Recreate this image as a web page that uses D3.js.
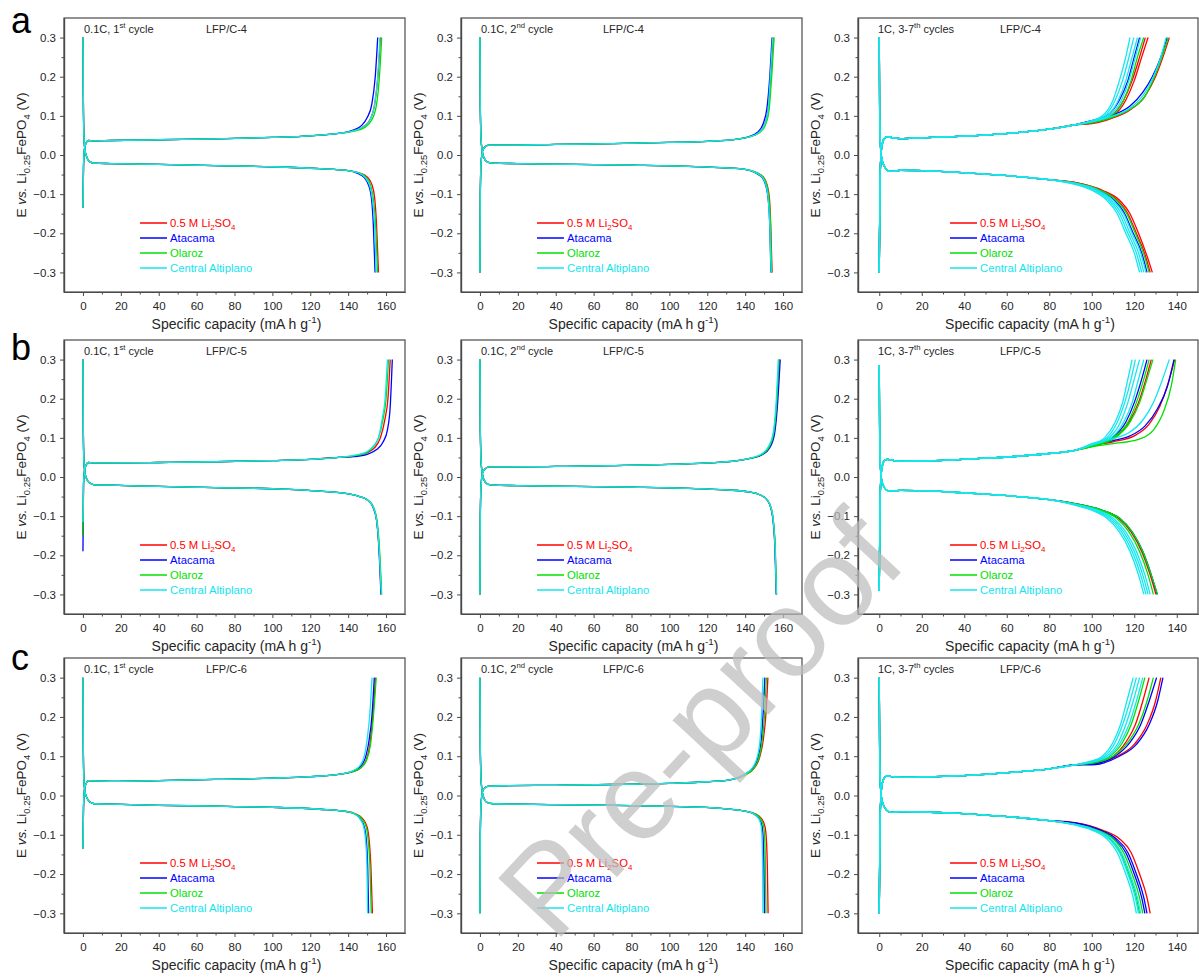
<!DOCTYPE html>
<html><head><meta charset="utf-8">
<script src="https://cdn.jsdelivr.net/npm/d3@7"></script>
<style>
body{margin:0;background:#fff;}
svg{display:block;font-family:"Liberation Sans",Arial,sans-serif;}
</style>
</head><body>
<svg id="chart" width="1199" height="979"></svg>
<script>
// ---------------- DATA ----------------
const seriesNames = ["0.5 M Li_{2}SO_{4}", "Atacama", "Olaroz", "Central Altiplano"];
const rowLetters = ["a", "b", "c"];
const sampleNames = ["LFP/C-4", "LFP/C-5", "LFP/C-6"];
const cycleLabels = ["0.1C, 1^{st} cycle", "0.1C, 2^{nd} cycle", "1C, 3-7^{th} cycles"];
const xTicksSlow = [0, 20, 40, 60, 80, 100, 120, 140, 160];
const xMinorSlow = [10, 30, 50, 70, 90, 110, 130, 150];
const xTicksFast = [0, 20, 40, 60, 80, 100, 120, 140];
const xMinorFast = [10, 30, 50, 70, 90, 110, 130];
const yTicks = [-0.3, -0.2, -0.1, 0.0, 0.1, 0.2, 0.3];
const yMinor = [-0.25, -0.15, -0.05, 0.05, 0.15, 0.25];
const xDomainSlow = [-10, 170];
const xDomainFast = [-10, 150];
const yDomain = [-0.35, 0.35];
const xLabel = "Specific capacity (mA h g^{-1})";
const yLabel = "E *vs.* Li_{0.25}FePO_{4} (V)";
const watermarkText = "Pre-proof";

// Panel a1: LFP/C-4, 0.1C 1st cycle
const a1ChargeStart = [-0.135, -0.135, -0.135, -0.135];
const a1ChargeHead = [[0.3,-0.03],[0.8,0.015],[1.6,0.03],[3,0.037],[5,0.036],[15,0.037],[40,0.039],[70,0.041],[100,0.045],[120,0.049],[135,0.055]];
const a1ChargeTails = [
  [0, [[143,0.062],[148,0.072],[151.5,0.09],[154,0.13],[155.7,0.2],[157,0.3]]],
  [1, [[143,0.064],[147,0.075],[150,0.095],[152.5,0.13],[154.3,0.2],[155.6,0.3]]],
  [2, [[143,0.061],[148.5,0.07],[152.5,0.09],[155,0.13],[156.5,0.2],[157.7,0.3]]],
  [3, [[143,0.062],[148,0.072],[151.5,0.09],[154,0.13],[155.6,0.2],[156.8,0.3]]]
];
const a1DischargeStart = [0.3, 0.3, 0.3, 0.3];
const a1DischargeHead = [[0.2,0.15],[0.5,0.05],[1,0.015],[2,-0.005],[3.5,-0.017],[6,-0.021],[15,-0.022],[40,-0.024],[70,-0.027],[100,-0.030],[125,-0.035],[140,-0.04]];
const a1DischargeTails = [
  [0, [[146,-0.046],[150,-0.056],[152.5,-0.075],[154,-0.11],[155,-0.18],[156,-0.3]]],
  [1, [[145,-0.047],[148.5,-0.058],[151,-0.08],[152.5,-0.12],[153.3,-0.18],[154.2,-0.3]]],
  [2, [[146,-0.046],[149.5,-0.057],[152,-0.08],[153.5,-0.12],[154.5,-0.18],[155.5,-0.3]]],
  [3, [[145.5,-0.046],[149,-0.058],[151.5,-0.08],[153,-0.12],[154,-0.18],[154.8,-0.3]]]
];

// Panel a2: LFP/C-4, 0.1C 2nd cycle
const a2ChargeStart = [-0.3, -0.3, -0.3, -0.3];
const a2ChargeHead = [[0.2,-0.1],[0.6,-0.02],[1.5,0.012],[3,0.022],[5,0.025],[15,0.025],[40,0.027],[70,0.029],[100,0.032],[120,0.035],[135,0.04]];
const a2ChargeTails = [
  [0, [[142,0.046],[147,0.057],[150,0.075],[152,0.11],[153.5,0.2],[154.8,0.3]]],
  [1, [[142,0.047],[146.5,0.058],[149.5,0.08],[151.5,0.12],[153,0.2],[154.2,0.3]]],
  [2, [[142,0.046],[147.5,0.057],[150.5,0.075],[152.5,0.11],[154,0.2],[155.3,0.3]]],
  [3, [[142,0.046],[147,0.057],[150,0.075],[152,0.11],[153.3,0.2],[154.5,0.3]]]
];
const a2DischargeStart = [0.3, 0.3, 0.3, 0.3];
const a2DischargeHead = [[0.2,0.12],[0.6,0.04],[1.2,0.01],[2.2,-0.008],[4,-0.018],[7,-0.021],[20,-0.022],[50,-0.024],[80,-0.026],[110,-0.029],[130,-0.033],[140,-0.037]];
const a2DischargeTails = [
  [0, [[146,-0.045],[149.5,-0.056],[151.5,-0.075],[152.8,-0.11],[153.5,-0.18],[154.2,-0.3]]],
  [1, [[145.5,-0.046],[149,-0.058],[151,-0.08],[152.3,-0.12],[153,-0.18],[153.6,-0.3]]],
  [2, [[146,-0.045],[149.5,-0.057],[151.5,-0.078],[152.7,-0.12],[153.4,-0.18],[154,-0.3]]],
  [3, [[145.5,-0.045],[149,-0.057],[151,-0.078],[152.3,-0.12],[153,-0.18],[153.7,-0.3]]]
];

// Panel a3: LFP/C-4, 1C cycles 3-7
const a3ChargeStart = [-0.3, -0.3, -0.3, -0.3];
const a3ChargeHead = [[0.3,-0.1],[0.8,0.0],[1.5,0.03],[2.5,0.043],[4,0.047],[6,0.044],[10,0.042],[20,0.044],[35,0.047],[50,0.051],[65,0.057],[80,0.066],[92,0.077]];
const a3ChargeTails = [
  [0, [[100,0.08],[110,0.095],[118,0.115],[125,0.15],[130,0.2],[133.5,0.25],[136.5,0.3]]],
  [0, [[100,0.082],[110,0.1],[116,0.14],[120,0.19],[123.5,0.25],[126.5,0.3]]],
  [0, [[100,0.083],[109,0.1],[115,0.14],[119,0.19],[122.5,0.25],[125.2,0.3]]],
  [1, [[100,0.088],[110,0.102],[118,0.125],[124,0.16],[128.5,0.2],[132.5,0.25],[135.5,0.3]]],
  [1, [[100,0.087],[107,0.1],[113,0.14],[117,0.19],[120,0.25],[122.5,0.3]]],
  [2, [[100,0.082],[110,0.097],[118,0.117],[125,0.15],[129.5,0.2],[133,0.25],[136,0.3]]],
  [2, [[100,0.084],[109,0.1],[115,0.14],[118.5,0.19],[121.5,0.25],[124.5,0.3]]],
  [3, [[100,0.085],[110,0.1],[118,0.12],[124.5,0.155],[129,0.2],[132.5,0.25],[135,0.3]]],
  [3, [[100,0.088],[105,0.1],[110,0.14],[113,0.19],[116,0.25],[118,0.3]]],
  [3, [[100,0.087],[106,0.1],[111,0.14],[114.5,0.19],[117.5,0.25],[119.8,0.3]]],
  [3, [[100,0.086],[107,0.1],[112.5,0.14],[116,0.19],[119,0.25],[121.5,0.3]]],
  [3, [[100,0.085],[108,0.1],[114,0.14],[117.5,0.19],[120.5,0.25],[123,0.3]]]
];
const a3DischargeStart = [0.3, 0.3, 0.3, 0.3];
const a3DischargeHead = [[0.2,0.1],[0.6,0.02],[1.2,-0.01],[2.5,-0.03],[4,-0.04],[6,-0.042],[10,-0.039],[20,-0.04],[35,-0.044],[50,-0.049],[65,-0.055],[80,-0.063]];
const a3DischargeTails = [
  [0, [[92,-0.07],[105,-0.09],[113,-0.115],[118,-0.15],[122,-0.2],[125.5,-0.25],[128.5,-0.3]]],
  [0, [[92,-0.07],[104,-0.09],[112,-0.115],[117,-0.15],[121,-0.2],[124.8,-0.25],[127.5,-0.3]]],
  [1, [[92,-0.072],[103,-0.09],[110.5,-0.115],[115.5,-0.15],[119.5,-0.2],[123.5,-0.25],[126,-0.3]]],
  [2, [[92,-0.071],[104,-0.09],[111.5,-0.115],[116.5,-0.15],[120.5,-0.2],[124.3,-0.25],[127,-0.3]]],
  [3, [[92,-0.075],[100,-0.09],[107,-0.115],[112,-0.15],[116,-0.2],[120,-0.25],[122.5,-0.3]]],
  [3, [[92,-0.074],[101,-0.09],[108,-0.115],[113,-0.15],[117,-0.2],[121,-0.25],[123.5,-0.3]]],
  [3, [[92,-0.073],[102,-0.09],[109,-0.115],[114,-0.15],[118,-0.2],[122,-0.25],[124.5,-0.3]]],
  [3, [[92,-0.072],[103,-0.09],[110,-0.115],[115,-0.15],[119,-0.2],[123,-0.25],[125.5,-0.3]]]
];

// Panel b1: LFP/C-5, 0.1C 1st cycle
const b1ChargeStart = [-0.15, -0.19, -0.15, -0.115];
const b1ChargeHead = [[0.3,-0.02],[0.8,0.015],[1.6,0.03],[3,0.037],[5,0.036],[15,0.036],[40,0.037],[70,0.039],[100,0.042],[120,0.045],[135,0.05]];
const b1ChargeTails = [
  [0, [[143,0.053],[150,0.062],[154,0.075],[157,0.1],[159.5,0.15],[161,0.2],[162.2,0.3]]],
  [1, [[143,0.052],[150,0.058],[155,0.07],[158.5,0.09],[160.7,0.12],[162.2,0.18],[163.3,0.3]]],
  [2, [[143,0.054],[150,0.063],[153.5,0.078],[156,0.1],[158.5,0.15],[160,0.2],[161.3,0.3]]],
  [3, [[143,0.055],[150,0.065],[153.5,0.08],[156,0.1],[158,0.15],[159.5,0.2],[160.7,0.3]]]
];
const b1DischargeStart = [0.3, 0.3, 0.3, 0.3];
const b1DischargeHead = [[0.2,0.12],[0.5,0.04],[1,0.012],[2,-0.005],[3.5,-0.015],[6,-0.02],[15,-0.021],[40,-0.024],[70,-0.027],[100,-0.03],[125,-0.036],[140,-0.043]];
const b1DischargeTails = [
  [0, [[146,-0.05],[150,-0.058],[153,-0.075],[155,-0.11],[156.3,-0.18],[157.5,-0.3]]],
  [1, [[146,-0.05],[150,-0.058],[153,-0.076],[155,-0.11],[156.2,-0.18],[157.3,-0.3]]],
  [2, [[146,-0.05],[150,-0.058],[153.2,-0.075],[155.2,-0.11],[156.5,-0.18],[157.7,-0.3]]],
  [3, [[146,-0.05],[150,-0.058],[153,-0.075],[155,-0.11],[156.3,-0.18],[157.5,-0.3]]]
];

// Panel b2: LFP/C-5, 0.1C 2nd cycle
const b2ChargeStart = [-0.3, -0.3, -0.3, -0.3];
const b2ChargeHead = [[0.2,-0.1],[0.6,-0.02],[1.5,0.012],[3,0.022],[5,0.026],[15,0.026],[40,0.027],[70,0.029],[100,0.032],[120,0.036],[135,0.041]];
const b2ChargeTails = [
  [0, [[143,0.048],[149,0.058],[152.5,0.075],[155,0.11],[156.5,0.18],[158,0.3]]],
  [1, [[143,0.048],[149,0.057],[153,0.075],[155.5,0.11],[157,0.18],[158.5,0.3]]],
  [2, [[143,0.048],[149,0.058],[152.5,0.075],[155,0.11],[156.5,0.18],[157.8,0.3]]],
  [3, [[143,0.049],[149,0.06],[152.3,0.078],[154.7,0.11],[156.2,0.18],[157.5,0.3]]]
];
const b2DischargeStart = [0.3, 0.3, 0.3, 0.3];
const b2DischargeHead = [[0.2,0.12],[0.6,0.04],[1.2,0.01],[2.2,-0.008],[4,-0.018],[7,-0.021],[20,-0.022],[50,-0.024],[80,-0.026],[110,-0.029],[130,-0.033],[142,-0.038]];
const b2DischargeTails = [
  [0, [[148,-0.046],[151.5,-0.058],[153.7,-0.08],[155,-0.12],[155.8,-0.18],[156.5,-0.3]]],
  [1, [[148,-0.046],[151.5,-0.058],[153.6,-0.08],[154.9,-0.12],[155.7,-0.18],[156.4,-0.3]]],
  [2, [[148,-0.046],[151.5,-0.058],[153.8,-0.08],[155.1,-0.12],[155.9,-0.18],[156.6,-0.3]]],
  [3, [[148,-0.046],[151.5,-0.058],[153.7,-0.08],[155,-0.12],[155.8,-0.18],[156.5,-0.3]]]
];

// Panel b3: LFP/C-5, 1C cycles 3-7
const b3ChargeStart = [-0.29, -0.29, -0.29, -0.29];
const b3ChargeHead = [[0.3,-0.1],[0.8,0.0],[1.5,0.03],[2.5,0.042],[4,0.045],[6,0.043],[10,0.04],[20,0.041],[35,0.044],[50,0.048],[65,0.053],[80,0.06],[92,0.068]];
const b3ChargeTails = [
  [0, [[100,0.08],[110,0.09],[120,0.105],[127,0.135],[132,0.18],[136,0.24],[139,0.3]]],
  [0, [[100,0.078],[110.5,0.1],[117.5,0.14],[122,0.19],[125.5,0.25],[128,0.3]]],
  [1, [[100,0.082],[110,0.093],[118,0.105],[125,0.13],[131,0.175],[135.5,0.23],[138.7,0.3]]],
  [1, [[100,0.081],[109.5,0.1],[116,0.14],[120,0.19],[123.5,0.25],[126,0.3]]],
  [2, [[100,0.077],[110,0.085],[122,0.096],[129,0.12],[134,0.17],[137.5,0.235],[139.5,0.3]]],
  [2, [[100,0.08],[110,0.1],[117,0.14],[121,0.19],[124.5,0.25],[127,0.3]]],
  [2, [[100,0.079],[111,0.1],[118,0.14],[122.5,0.19],[126,0.25],[128.8,0.3]]],
  [3, [[100,0.085],[110,0.098],[118,0.115],[124,0.145],[129,0.19],[133,0.245],[136.5,0.3]]],
  [3, [[100,0.083],[106,0.1],[111,0.14],[114.5,0.19],[117,0.25],[119,0.3]]],
  [3, [[100,0.083],[107,0.1],[112,0.14],[115.5,0.19],[118.5,0.25],[120.5,0.3]]],
  [3, [[100,0.082],[108,0.1],[113.5,0.14],[117,0.19],[120,0.25],[122.5,0.3]]],
  [3, [[100,0.082],[109,0.1],[115,0.14],[119,0.19],[122,0.25],[124.5,0.3]]]
];
const b3DischargeStart = [0.285, 0.285, 0.285, 0.285];
const b3DischargeHead = [[0.2,0.1],[0.6,0.02],[1.2,-0.01],[2.5,-0.028],[4,-0.035],[6,-0.036],[10,-0.034],[20,-0.035],[35,-0.039],[50,-0.044],[65,-0.05],[80,-0.058]];
const b3DischargeTails = [
  [0, [[92,-0.068],[104.5,-0.085],[112.5,-0.105],[118.5,-0.14],[123.5,-0.19],[127.5,-0.25],[130.2,-0.3]]],
  [1, [[92,-0.068],[105,-0.085],[113,-0.105],[119,-0.14],[124,-0.19],[128,-0.25],[130.8,-0.3]]],
  [2, [[92,-0.069],[104,-0.085],[111.5,-0.105],[117.5,-0.14],[122.5,-0.19],[126.5,-0.25],[129,-0.3]]],
  [2, [[92,-0.068],[105,-0.085],[113,-0.105],[119,-0.14],[124,-0.19],[128,-0.25],[131,-0.3]]],
  [3, [[92,-0.072],[100,-0.085],[107,-0.105],[113,-0.14],[118,-0.19],[122,-0.25],[124.5,-0.3]]],
  [3, [[92,-0.071],[101,-0.085],[108,-0.105],[114,-0.14],[119,-0.19],[123,-0.25],[125.5,-0.3]]],
  [3, [[92,-0.07],[102,-0.085],[109,-0.105],[115,-0.14],[120,-0.19],[124,-0.25],[126.5,-0.3]]],
  [3, [[92,-0.07],[103,-0.085],[110,-0.105],[116,-0.14],[121,-0.19],[125,-0.25],[127.5,-0.3]]]
];

// Panel c1: LFP/C-6, 0.1C 1st cycle
const c1ChargeStart = [-0.135, -0.135, -0.135, -0.135];
const c1ChargeHead = [[0.3,-0.03],[0.8,0.015],[1.6,0.03],[3,0.038],[5,0.037],[15,0.036],[40,0.038],[70,0.041],[100,0.044],[120,0.048],[135,0.054]];
const c1ChargeTails = [
  [0, [[142,0.06],[146.5,0.07],[149.5,0.09],[151.5,0.13],[153,0.2],[154.5,0.3]]],
  [1, [[142,0.061],[146,0.072],[149,0.095],[151,0.14],[152.5,0.2],[153.8,0.3]]],
  [2, [[142,0.06],[146.5,0.07],[149.7,0.09],[151.8,0.13],[153.3,0.2],[154.8,0.3]]],
  [3, [[142,0.062],[146,0.075],[148.5,0.1],[150.2,0.15],[151.3,0.2],[152.6,0.3]]]
];
const c1DischargeStart = [0.3, 0.3, 0.3, 0.3];
const c1DischargeHead = [[0.2,0.12],[0.5,0.04],[1,0.012],[2,-0.005],[3.5,-0.016],[6,-0.021],[15,-0.022],[40,-0.025],[70,-0.027],[100,-0.03],[125,-0.035],[138,-0.04]];
const c1DischargeTails = [
  [0, [[144,-0.047],[147.5,-0.058],[150,-0.08],[151.2,-0.12],[152,-0.18],[152.8,-0.3]]],
  [1, [[143.5,-0.047],[146.5,-0.06],[148.5,-0.08],[149.7,-0.12],[150.3,-0.18],[150.8,-0.3]]],
  [2, [[144,-0.047],[147,-0.058],[149.5,-0.08],[150.7,-0.12],[151.5,-0.18],[152.2,-0.3]]],
  [3, [[143.5,-0.047],[146.3,-0.06],[148.2,-0.08],[149.3,-0.12],[149.9,-0.18],[150.3,-0.3]]]
];

// Panel c2: LFP/C-6, 0.1C 2nd cycle
const c2ChargeStart = [-0.3, -0.3, -0.3, -0.3];
const c2ChargeHead = [[0.2,-0.1],[0.6,-0.02],[1.5,0.012],[3,0.021],[5,0.024],[15,0.025],[40,0.026],[70,0.028],[100,0.031],[120,0.035],[132,0.04]];
const c2ChargeTails = [
  [0, [[140,0.053],[144.5,0.068],[147.5,0.095],[149.5,0.14],[151,0.21],[152,0.3]]],
  [1, [[140,0.054],[144,0.07],[146.8,0.098],[148.5,0.14],[149.5,0.21],[150.4,0.3]]],
  [2, [[140,0.053],[144.3,0.068],[147.2,0.095],[149,0.14],[150.3,0.21],[151.2,0.3]]],
  [3, [[140,0.055],[144,0.072],[146.5,0.1],[148,0.15],[148.8,0.22],[149.4,0.3]]]
];
const c2DischargeStart = [0.3, 0.3, 0.3, 0.3];
const c2DischargeHead = [[0.2,0.12],[0.6,0.04],[1.2,0.01],[2.2,-0.008],[4,-0.018],[7,-0.021],[20,-0.022],[50,-0.024],[80,-0.026],[110,-0.029],[130,-0.034],[140,-0.04]];
const c2DischargeTails = [
  [0, [[145,-0.046],[148.5,-0.058],[150.5,-0.08],[151.3,-0.12],[151.7,-0.18],[152.1,-0.3]]],
  [1, [[144.5,-0.047],[147.5,-0.06],[149,-0.08],[149.6,-0.12],[149.9,-0.18],[150.2,-0.3]]],
  [2, [[145,-0.046],[148,-0.058],[149.8,-0.08],[150.4,-0.12],[150.7,-0.18],[151,-0.3]]],
  [3, [[144.5,-0.047],[147.3,-0.06],[148.5,-0.08],[149,-0.12],[149.2,-0.18],[149.4,-0.3]]]
];

// Panel c3: LFP/C-6, 1C cycles 3-7
const c3ChargeStart = [-0.3, -0.3, -0.3, -0.3];
const c3ChargeHead = [[0.3,-0.1],[0.8,0.0],[1.5,0.032],[2.5,0.046],[4,0.05],[6,0.048],[10,0.046],[20,0.047],[35,0.05],[50,0.054],[65,0.06],[80,0.068],[92,0.078]];
const c3ChargeTails = [
  [0, [[100,0.082],[110,0.1],[116,0.135],[120.5,0.18],[124,0.24],[127,0.3]]],
  [0, [[100,0.08],[112,0.1],[120,0.13],[126,0.18],[130,0.24],[132.5,0.3]]],
  [1, [[100,0.08],[111,0.1],[118,0.135],[123,0.18],[127,0.24],[130.5,0.3]]],
  [1, [[100,0.078],[113,0.1],[121,0.13],[127,0.18],[131,0.24],[133.5,0.3]]],
  [2, [[100,0.084],[108.5,0.1],[114.5,0.135],[118.5,0.18],[122,0.24],[125,0.3]]],
  [2, [[100,0.082],[110,0.1],[117,0.135],[122,0.18],[126,0.24],[129,0.3]]],
  [3, [[100,0.088],[105,0.1],[110,0.135],[113.5,0.18],[116.5,0.24],[119.5,0.3]]],
  [3, [[100,0.087],[106,0.1],[111,0.135],[114.5,0.18],[118,0.24],[121,0.3]]],
  [3, [[100,0.086],[107,0.1],[112.5,0.135],[116,0.18],[119.5,0.24],[122.5,0.3]]],
  [3, [[100,0.085],[108,0.1],[113.5,0.135],[117.5,0.18],[121,0.24],[124,0.3]]]
];
const c3DischargeStart = [0.3, 0.3, 0.3, 0.3];
const c3DischargeHead = [[0.2,0.1],[0.6,0.02],[1.2,-0.01],[2.5,-0.03],[4,-0.04],[6,-0.043],[10,-0.041],[20,-0.042],[35,-0.045],[50,-0.05],[65,-0.056],[80,-0.064]];
const c3DischargeTails = [
  [0, [[92,-0.069],[105,-0.088],[113,-0.11],[118.5,-0.145],[122.5,-0.2],[126,-0.26],[127.5,-0.3]]],
  [1, [[92,-0.07],[104,-0.088],[111.5,-0.11],[117,-0.145],[121,-0.2],[124.5,-0.26],[126,-0.3]]],
  [1, [[92,-0.07],[103,-0.088],[110.5,-0.11],[116,-0.145],[120,-0.2],[123.5,-0.26],[125,-0.3]]],
  [2, [[92,-0.074],[101.5,-0.088],[108.5,-0.11],[113.5,-0.145],[117.5,-0.2],[121,-0.26],[122.5,-0.3]]],
  [2, [[92,-0.073],[102.5,-0.088],[110,-0.11],[115,-0.145],[119,-0.2],[122.5,-0.26],[124,-0.3]]],
  [3, [[92,-0.075],[100,-0.088],[107,-0.11],[112,-0.145],[116,-0.2],[119.5,-0.26],[121,-0.3]]],
  [3, [[92,-0.074],[101,-0.088],[108,-0.11],[113,-0.145],[117,-0.2],[120.5,-0.26],[122,-0.3]]],
  [3, [[92,-0.073],[102,-0.088],[109,-0.11],[114,-0.145],[118,-0.2],[121.5,-0.26],[123,-0.3]]]
];

// ---------------- STYLE / LAYOUT ----------------
const seriesColors = ["#ff0000", "#0000ff", "#00e000", "#14e6f0"];
const colLeft = [64, 461, 858], colWidth = [341, 341, 340];
const rowTop = [18, 340, 658], rowHeight = [274, 274, 275];
const letterBaseline = [33, 360, 670];
const legendOffsetX = [76, 76, 92];
const axisColor = "#4a4a4a", textColor = "#262626";

const panelTable = [
  [a1ChargeStart, a1ChargeHead, a1ChargeTails, a1DischargeStart, a1DischargeHead, a1DischargeTails],
  [a2ChargeStart, a2ChargeHead, a2ChargeTails, a2DischargeStart, a2DischargeHead, a2DischargeTails],
  [a3ChargeStart, a3ChargeHead, a3ChargeTails, a3DischargeStart, a3DischargeHead, a3DischargeTails],
  [b1ChargeStart, b1ChargeHead, b1ChargeTails, b1DischargeStart, b1DischargeHead, b1DischargeTails],
  [b2ChargeStart, b2ChargeHead, b2ChargeTails, b2DischargeStart, b2DischargeHead, b2DischargeTails],
  [b3ChargeStart, b3ChargeHead, b3ChargeTails, b3DischargeStart, b3DischargeHead, b3DischargeTails],
  [c1ChargeStart, c1ChargeHead, c1ChargeTails, c1DischargeStart, c1DischargeHead, c1DischargeTails],
  [c2ChargeStart, c2ChargeHead, c2ChargeTails, c2DischargeStart, c2DischargeHead, c2DischargeTails],
  [c3ChargeStart, c3ChargeHead, c3ChargeTails, c3DischargeStart, c3DischargeHead, c3DischargeTails]
];

// ---------------- RENDER ----------------
const svg = d3.select("#chart");
svg.append("rect").attr("width", 1199).attr("height", 979).attr("fill", "#fff");

function rich(sel, str, size) {
  const parts = str.split(/(_\{[^}]*\}|\^\{[^}]*\}|\*[^*]*\*)/).filter(s => s.length);
  let cur = 0;
  parts.forEach(p => {
    let t = p, off = 0, fs = size, italic = false;
    if (p.startsWith("_{")) { t = p.slice(2, -1); fs = size * 0.7; off = size * 0.3; }
    else if (p.startsWith("^{")) { t = p.slice(2, -1); fs = size * 0.7; off = -size * 0.42; }
    else if (p.startsWith("*")) { t = p.slice(1, -1); italic = true; }
    const ts = sel.append("tspan").text(t).attr("font-size", fs).attr("dy", off - cur);
    if (italic) ts.attr("font-style", "italic");
    cur = off;
  });
}

for (let r = 0; r < 3; r++) {
  svg.append("text").attr("x", 11).attr("y", letterBaseline[r])
    .attr("font-size", 36).attr("fill", "#000").text(rowLetters[r]);
  for (let c = 0; c < 3; c++) {
    const L = colLeft[c], T = rowTop[r], W = colWidth[c], H = rowHeight[r];
    const fast = c === 2;
    const x = d3.scaleLinear().domain(fast ? xDomainFast : xDomainSlow).range([L, L + W]);
    const y = d3.scaleLinear().domain(yDomain).range([T + H, T]);
    const g = svg.append("g");
    const [cs, ch, ct, ds, dh, dt] = panelTable[r * 3 + c];
    const curves = [];
    ct.forEach(([s, pts]) => curves.push({ s, pts: [[0, cs[s]]].concat(ch, pts) }));
    dt.forEach(([s, pts]) => curves.push({ s, pts: [[0, ds[s]]].concat(dh, pts) }));
    curves.sort((a, b) => a.s - b.s);
    const line = d3.line().x(d => x(d[0])).y(d => y(d[1])).curve(d3.curveMonotoneX);
    g.append("g").selectAll("path").data(curves).join("path")
      .attr("d", d => line(d.pts)).attr("fill", "none")
      .attr("stroke", d => seriesColors[d.s]).attr("stroke-width", 1.3)
      .attr("stroke-linejoin", "round");

    // frame
    g.append("rect").attr("x", L).attr("y", T).attr("width", W).attr("height", H)
      .attr("fill", "none").attr("stroke", axisColor).attr("stroke-width", 1.2);

    // axes
    const yAx = g.append("g").attr("transform", `translate(${L},0)`)
      .call(d3.axisLeft(y).tickValues(yTicks).tickFormat(d3.format(".1f")).tickSize(4).tickSizeOuter(0).tickPadding(4));
    const yMin = g.append("g").attr("transform", `translate(${L},0)`)
      .call(d3.axisLeft(y).tickValues(yMinor).tickFormat("").tickSize(2.5).tickSizeOuter(0));
    const xAx = g.append("g").attr("transform", `translate(0,${T + H})`)
      .call(d3.axisBottom(x).tickValues(fast ? xTicksFast : xTicksSlow).tickSize(4).tickSizeOuter(0).tickPadding(6));
    const xMin = g.append("g").attr("transform", `translate(0,${T + H})`)
      .call(d3.axisBottom(x).tickValues(fast ? xMinorFast : xMinorSlow).tickFormat("").tickSize(2.5).tickSizeOuter(0));
    [yAx, yMin, xAx, xMin].forEach(a => {
      a.select(".domain").attr("stroke", axisColor).attr("stroke-width", 1.2);
      a.selectAll(".tick line").attr("stroke", axisColor).attr("stroke-width", 1);
      a.selectAll(".tick text").attr("fill", textColor).attr("font-size", 11.5)
        .attr("font-family", "'Liberation Sans', Arial, sans-serif");
    });

    // axis titles
    const xt = g.append("text").attr("x", L + W / 2 + 2).attr("y", T + H + 37)
      .attr("text-anchor", "middle").attr("fill", textColor).attr("font-size", 14);
    rich(xt, xLabel, 14);
    const yt = g.append("text").attr("transform", `translate(${L - 38},${T + H / 2}) rotate(-90)`)
      .attr("text-anchor", "middle").attr("fill", textColor).attr("font-size", 13.5);
    rich(yt, yLabel, 13.5);

    // annotations
    const ct1 = g.append("text").attr("x", L + 20).attr("y", T + 15).attr("fill", textColor).attr("font-size", 11);
    rich(ct1, cycleLabels[c], 11);
    g.append("text").attr("x", L + 142).attr("y", T + 15).attr("fill", textColor)
      .attr("font-size", 11).text(sampleNames[r]);

    // legend
    seriesNames.forEach((name, i) => {
      const ly = T + 205 + i * 15;
      const lx = L + legendOffsetX[c];
      g.append("line").attr("x1", lx).attr("x2", lx + 27).attr("y1", ly).attr("y2", ly)
        .attr("stroke", seriesColors[i]).attr("stroke-width", 1.5);
      const t = g.append("text").attr("x", lx + 30).attr("y", ly + 4)
        .attr("fill", seriesColors[i]).attr("font-size", 11.3);
      rich(t, name, 11.3);
    });
  }
}

// watermark
svg.append("text").attr("transform", "translate(700,724) rotate(-47)")
  .attr("text-anchor", "middle").attr("dominant-baseline", "central")
  .attr("font-size", 125).attr("fill", "#bdbdbd").attr("opacity", 0.72)
  .text(watermarkText);
</script>
</body></html>
